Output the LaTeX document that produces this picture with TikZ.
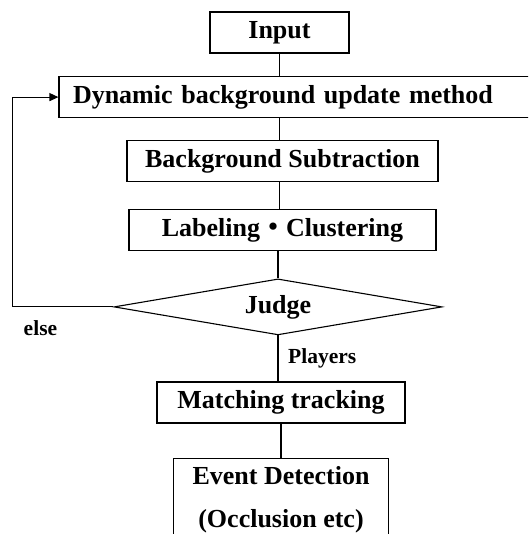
\documentclass[tikz,border=0pt]{standalone}
\usepackage{fontspec}
\setmainfont{Liberation Serif}
\newfontfamily\cjk{Noto Sans CJK JP}
\usepackage{tikz}
\usetikzlibrary{positioning,arrows.meta,shapes.geometric}
\tikzset{
  box/.style={rectangle, draw, line width=1.1pt, minimum height=41pt, inner sep=4pt,
              font=\fontsize{26}{30}\selectfont\bfseries, align=center},
  decision/.style={diamond, draw, line width=1.1pt, inner sep=0pt, aspect=5.8,
                   font=\fontsize{26}{30}\selectfont\bfseries},
  lbl/.style={inner sep=0pt, font=\fontsize{21.5}{25}\selectfont\bfseries},
  link/.style={line width=1.1pt},
  feedback/.style={line width=1.1pt, -{Triangle[length=9pt,width=8pt]}},
}

\begin{document}
\begin{tikzpicture}
\useasboundingbox (0,0) rectangle (528pt,-534pt);
\clip (0,0) rectangle (528pt,-534pt);

%Nodes
\node[box, minimum width=139pt] (input) at (279.5pt,-32.5pt) {Input};
\node[box, text width=453pt, inner xsep=14pt, align=left] (dyn) [below=22.5pt of input, xshift=20pt] {Dynamic background update method};
\node[box, minimum width=311pt] (sub) [below=22pt of dyn, xshift=-17pt] {Background Subtraction};
\node[box, minimum width=307pt] (lab) [below=27pt of sub] {Labeling{\cjk ・}Clustering};
\node[decision, minimum width=328pt, minimum height=56pt] (judge) [below=27pt of lab, xshift=-4.5pt] {Judge};
\node[box, minimum width=248pt] (match) [below=46pt of judge, xshift=3pt] {Matching tracking};
\node[box, minimum width=215pt, inner ysep=8pt, font=\fontsize{26}{43}\selectfont\bfseries] (event) [below=34pt of match] {Event Detection\\(Occlusion etc)};

%Labels
\node[lbl] (else) at ([xshift=-73pt,yshift=-21pt]judge.west) {else};
\node[lbl, anchor=west] (players) at ([xshift=10pt,yshift=-23pt]judge.south) {Players};

%Lines
\draw[link] (input) -- (input |- dyn.north);
\draw[link] (dyn.south -| input) -- (sub.north -| input);
\draw[link] (sub.south -| input) -- (lab.north -| input);
\draw[link] (lab.south -| judge) -- (judge);
\draw[link] (judge) -- (judge |- match.north);
\draw[link] (match) -- (match |- event.north);
\draw[feedback] (judge.west) -- ++(-101pt,0) |- (dyn.west);
\end{tikzpicture}
\end{document}
